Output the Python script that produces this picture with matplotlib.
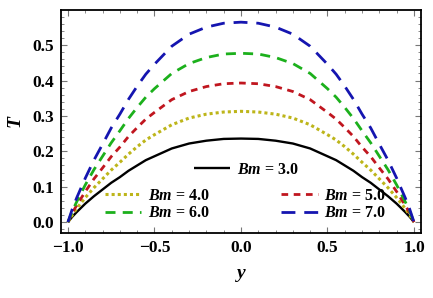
import matplotlib
matplotlib.use("Agg")
import matplotlib.pyplot as plt
from matplotlib.ticker import MultipleLocator, FuncFormatter

plt.rcParams['font.family'] = 'Liberation Serif'
plt.rcParams['font.weight'] = 'bold'
plt.rcParams['mathtext.fontset'] = 'custom'
plt.rcParams['mathtext.it'] = 'Liberation Serif:italic:bold'
plt.rcParams['mathtext.rm'] = 'Liberation Serif:bold'
plt.rcParams['mathtext.bf'] = 'Liberation Serif:bold'

y = [-1.0, -0.975, -0.95, -0.9, -0.85, -0.8, -0.75, -0.7, -0.65, -0.6, -0.55, -0.5,
     -0.4, -0.3, -0.2, -0.1, 0.0, 0.1, 0.2, 0.3, 0.4,
     0.5, 0.55, 0.6, 0.65, 0.7, 0.75, 0.8, 0.85, 0.9, 0.95, 0.975, 1.0]

T_bm3 = [0, 0.015, 0.028, 0.052, 0.073, 0.092, 0.111, 0.127, 0.145, 0.160, 0.175, 0.186,
         0.208, 0.222, 0.230, 0.235, 0.236, 0.235, 0.230, 0.222, 0.208,
         0.186, 0.175, 0.160, 0.145, 0.127, 0.111, 0.092, 0.073, 0.052, 0.028, 0.015, 0]
T_bm4 = [0, 0.020, 0.038, 0.069, 0.097, 0.122, 0.147, 0.169, 0.192, 0.213, 0.232, 0.247,
         0.275, 0.294, 0.305, 0.311, 0.313, 0.311, 0.305, 0.294, 0.275,
         0.247, 0.232, 0.213, 0.192, 0.169, 0.147, 0.122, 0.097, 0.069, 0.038, 0.020, 0]
T_bm5 = [0, 0.026, 0.047, 0.086, 0.122, 0.153, 0.185, 0.212, 0.242, 0.267, 0.291, 0.310,
         0.346, 0.369, 0.383, 0.391, 0.393, 0.391, 0.383, 0.369, 0.346,
         0.310, 0.291, 0.267, 0.242, 0.212, 0.185, 0.153, 0.122, 0.086, 0.047, 0.026, 0]
T_bm6 = [0, 0.031, 0.057, 0.105, 0.148, 0.186, 0.224, 0.258, 0.293, 0.324, 0.353, 0.377,
         0.420, 0.448, 0.465, 0.475, 0.477, 0.475, 0.465, 0.448, 0.420,
         0.377, 0.353, 0.324, 0.293, 0.258, 0.224, 0.186, 0.148, 0.105, 0.057, 0.031, 0]
T_bm7 = [0, 0.037, 0.068, 0.124, 0.175, 0.220, 0.266, 0.305, 0.347, 0.384, 0.418, 0.446,
         0.497, 0.531, 0.551, 0.562, 0.565, 0.562, 0.551, 0.531, 0.497,
         0.446, 0.418, 0.384, 0.347, 0.305, 0.266, 0.220, 0.175, 0.124, 0.068, 0.037, 0]

labels = ["3.0", "4.0", "5.0", "6.0", "7.0"]

fig = plt.figure(figsize=(4.33, 2.98), dpi=100)
ax = fig.add_axes([0.141, 0.218, 0.831, 0.748])

l3, = ax.plot(y, T_bm3, color='black', lw=1.7, solid_capstyle='butt',
              label=r'$\mathit{Bm}$ = ' + labels[0])
l4, = ax.plot(y, T_bm4, color='#BDB51A', lw=2.2, dashes=(1.0, 1.0),
              label=r'$\mathit{Bm}$ = ' + labels[1])
l5, = ax.plot(y, T_bm5, color='#C0161F', lw=2.0, dashes=(2.4, 2.0),
              label=r'$\mathit{Bm}$ = ' + labels[2])
l6, = ax.plot(y, T_bm6, color='#1CB01C', lw=2.0, dashes=(3.6, 2.6),
              label=r'$\mathit{Bm}$ = ' + labels[3])
l7, = ax.plot(y, T_bm7, color='#1515B0', lw=2.0, dashes=(5.0, 3.2),
              label=r'$\mathit{Bm}$ = ' + labels[4])

ax.set_xlim(-1.04, 1.04)
ax.set_ylim(-0.031, 0.599)
ax.xaxis.set_major_locator(MultipleLocator(0.5))
ax.xaxis.set_minor_locator(MultipleLocator(0.1))
ax.yaxis.set_major_locator(MultipleLocator(0.1))
ax.yaxis.set_minor_locator(MultipleLocator(0.02))
ax.xaxis.set_major_formatter(FuncFormatter(lambda v, p: f"{v:.1f}".replace('-', '\u2212')))
ax.yaxis.set_major_formatter(FuncFormatter(lambda v, p: f"{v:.1f}"))
ax.tick_params(which='both', direction='in', top=True, right=True, color='#777777')
ax.tick_params(which='major', length=4, width=0.8, labelsize=12.5, pad=5)
ax.tick_params(which='minor', length=2, width=0.6)
for s in ax.spines.values():
    s.set_linewidth(1.3)

ax.set_xlabel(r'$\mathit{y}$', fontsize=14, labelpad=8)
ax.set_ylabel(r'$\mathit{T}$', fontsize=14, labelpad=5)

common = dict(frameon=False, fontsize=11.5, handlelength=2.3, handletextpad=0.4,
              borderpad=0, labelspacing=0.1)
leg1 = ax.legend(handles=[l3], loc='center', bbox_to_anchor=(0.514, 0.283), **common)
ax.add_artist(leg1)
leg2 = ax.legend(handles=[l4, l6], loc='center', bbox_to_anchor=(0.267, 0.128), **common)
ax.add_artist(leg2)
leg3 = ax.legend(handles=[l5, l7], loc='center', bbox_to_anchor=(0.757, 0.128), **common)

fig.savefig('out.png', dpi=100)
